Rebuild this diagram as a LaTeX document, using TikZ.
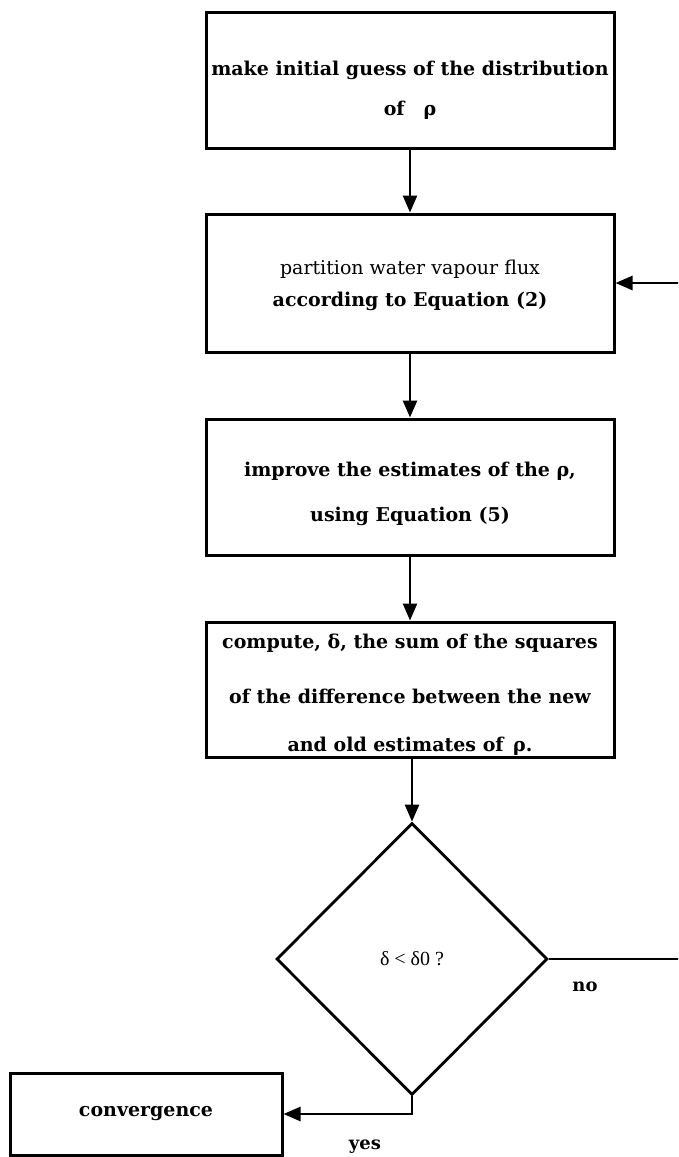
\documentclass[tikz,border=0pt]{standalone}
\usepackage{fontspec}
\setmainfont{DejaVu Serif}
\newfontfamily\testfont{Liberation Serif}
\usetikzlibrary{shapes.geometric,arrows.meta,positioning}

\tikzset{
  stepbox/.style={draw, rectangle, line width=3pt, minimum width=408pt, inner sep=0pt,
    align=center, font=\fontsize{19}{22}\selectfont\bfseries},
  testbox/.style={draw, diamond, aspect=1, line width=2.8pt, minimum width=271pt, minimum height=272pt,
    inner sep=0pt, font=\fontsize{20}{22}\selectfont\testfont},
  flow/.style={line width=2.6pt, -{Triangle[length=17pt,width=14pt]}},
  answer/.style={font=\fontsize{18}{20}\selectfont\bfseries}
}

\begin{document}
\begin{tikzpicture}[x=1pt,y=-1pt]
  \useasboundingbox (0,0) rectangle (678,1157);
  \clip (0,0) rectangle (678,1157);

  \node[stepbox, minimum height=136pt] (guess) at (410,80)
    {\rule{0pt}{34pt}make initial guess of the distribution\\[18pt]of\quad ρ};
  \node[stepbox, minimum height=138pt] (part) at (410,283)
    {\rule{0pt}{20pt}{\mdseries partition water vapour flux}\\[10pt]according to Equation (2)};
  \node[stepbox, minimum height=136pt] (improve) at (410,487)
    {\rule{0pt}{28pt}improve the estimates of the ρ,\\[23pt]using Equation (5)};
  \node[stepbox, minimum height=135pt] (sum) at (410,689.5)
    {\rule{0pt}{24pt}compute, δ, the sum of the squares\\[33pt]of the difference between the new\\[26pt]and old estimates of\enspace ρ.};
  \node[testbox] (test) at (412,959) {δ < δ0 ?};
  \node[stepbox, minimum width=272pt, minimum height=82pt] (conv) at (146,1114) {convergence};

  \coordinate (back) at (694,0);

  \draw[flow] (guess) -- (part);
  \draw[flow] (part) -- (improve);
  \draw[flow] (improve) -- (sum);
  \draw[flow] (sum.south -| test.north) -- (test.north);
  \draw[flow] (test.east) -- (test.east -| back) |- (part.east);
  \draw[flow] (test.south) |- (conv.east);

  \node[answer] (no) at (585,987) {no};
  \node[answer] (yes) at (365,1147) {yes};
\end{tikzpicture}
\end{document}
